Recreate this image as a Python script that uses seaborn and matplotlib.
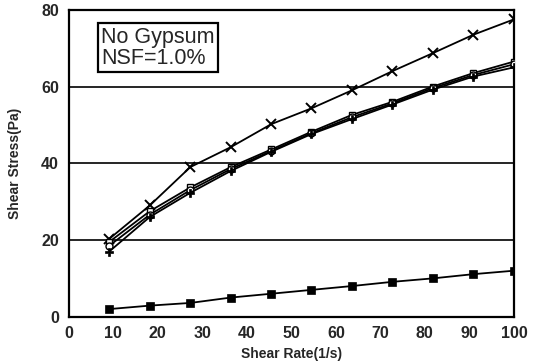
import matplotlib
matplotlib.use("Agg")
import matplotlib.pyplot as plt
import seaborn as sns
import pandas as pd

shear_rate = [9.1, 18.2, 27.3, 36.4, 45.5, 54.5, 63.6, 72.7, 81.8, 90.9, 100]
cross_series = [20.3, 29.0, 39.0, 44.2, 50.2, 54.3, 59.0, 64.0, 68.7, 73.5, 77.5]
square_open = [19.5, 27.5, 33.7, 39.0, 43.6, 48.2, 52.6, 56.0, 60.0, 63.5, 66.5]
circle_open = [18.5, 26.6, 33.0, 38.5, 43.2, 47.8, 52.0, 55.6, 59.6, 63.0, 65.8]
plus_filled = [17.0, 26.0, 32.3, 38.0, 43.0, 47.6, 51.5, 55.3, 59.2, 62.6, 65.0]
square_filled = [2.0, 2.9, 3.6, 5.0, 6.0, 7.0, 8.0, 9.1, 10.0, 11.1, 12.0]

series_names = ["cross", "sq_open", "circ_open", "plus", "sq_filled"]
series_vals = [cross_series, square_open, circle_open, plus_filled, square_filled]

rows = []
for name, vals in zip(series_names, series_vals):
    for x, y in zip(shear_rate, vals):
        rows.append({"rate": x, "stress": y, "series": name})
df = pd.DataFrame(rows)

sns.set_style("white")
plt.rcParams["font.family"] = ["Liberation Sans", "DejaVu Sans"]

fig = plt.figure(figsize=(5.37, 3.62), dpi=100)
ax = fig.add_axes([0.128, 0.125, 0.829, 0.848])

styles = {
    "cross": dict(marker="x", markersize=7, markeredgewidth=1.4, mfc="black"),
    "sq_open": dict(marker="s", markersize=5, markeredgewidth=1.0, mfc="white"),
    "circ_open": dict(marker="o", markersize=5, markeredgewidth=1.0, mfc="white"),
    "plus": dict(marker="P", markersize=6, markeredgewidth=0.5, mfc="black"),
    "sq_filled": dict(marker="s", markersize=6, markeredgewidth=0.5, mfc="black"),
}

for name in series_names:
    sub = df[df["series"] == name]
    st = styles[name]
    sns.lineplot(data=sub, x="rate", y="stress", ax=ax, color="black",
                 linewidth=1.3, marker=st["marker"], markersize=st["markersize"],
                 markeredgewidth=st["markeredgewidth"], markerfacecolor=st["mfc"],
                 markeredgecolor="black", legend=False, zorder=3)

ax.set_xlim(0, 100)
ax.set_ylim(0, 80)
ax.set_xticks(range(0, 101, 10))
ax.set_yticks([0, 20, 40, 60, 80])
for yv in [20, 40, 60]:
    ax.axhline(yv, color="black", linewidth=1.2, zorder=1)

for sp in ax.spines.values():
    sp.set_color("black")
    sp.set_linewidth(1.6)

ax.tick_params(axis="both", direction="inout", length=6, width=1.2, color="black",
               labelsize=11.5, pad=4)
for lab in ax.get_xticklabels() + ax.get_yticklabels():
    lab.set_fontweight("bold")

ax.set_xlabel("Shear Rate(1/s)", fontsize=10, fontweight="bold", labelpad=4)
ax.set_ylabel("Shear Stress(Pa)", fontsize=10, fontweight="bold", labelpad=14)

ax.text(0.072, 0.945, "No Gypsum\nNSF=1.0%", transform=ax.transAxes,
        fontsize=15.5, va="top", ha="left", linespacing=1.0,
        bbox=dict(boxstyle="square,pad=0.15", facecolor="white",
                  edgecolor="black", linewidth=1.6), zorder=5)

fig.savefig("out.png", dpi=100)
